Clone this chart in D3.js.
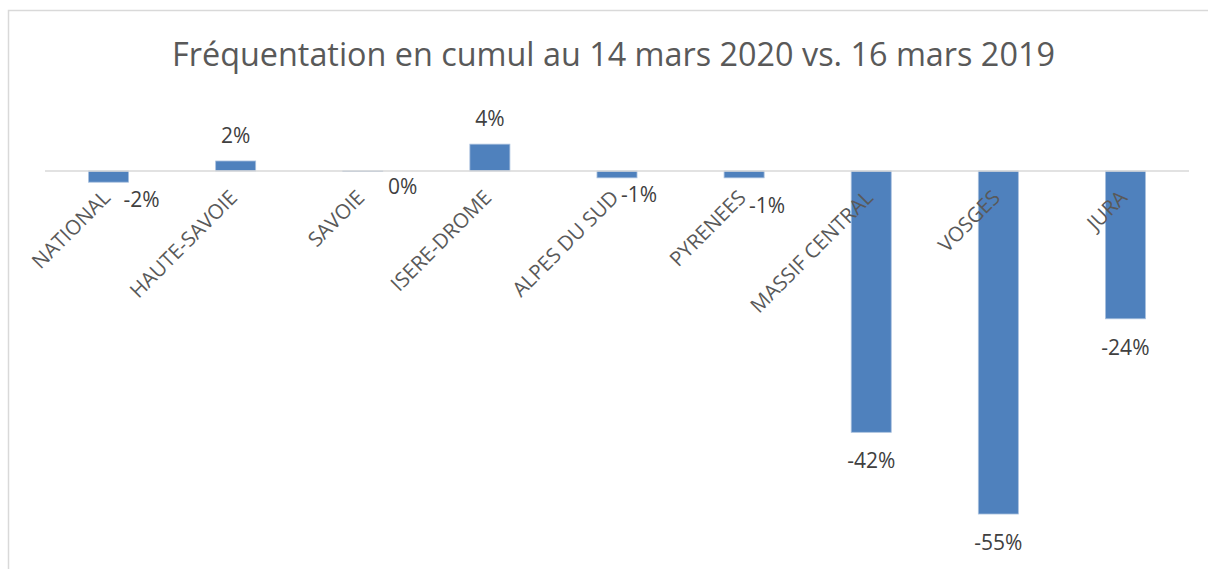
<!DOCTYPE html>
<html>
<head>
<meta charset="utf-8">
<script src="https://cdn.jsdelivr.net/npm/d3@7"></script>
<style>
  html, body { margin: 0; padding: 0; background: #fff; }
  svg { display: block; }
</style>
</head>
<body>
<svg id="chart" width="1208" height="569"></svg>
<script>
// ---- data ----
const categories = ["NATIONAL", "HAUTE-SAVOIE", "SAVOIE", "ISERE-DROME", "ALPES DU SUD", "PYRENEES", "MASSIF CENTRAL", "VOSGES", "JURA"];
const values = [-1.8, 1.6, -0.1, 4.3, -1.1, -1.1, -41.9, -55.0, -23.7];
const titleText = "Fréquentation en cumul au 14 mars 2020 vs. 16 mars 2019";

// ---- drawing ----
const svg = d3.select("#chart");
const W = 1208, H = 569;

// chart frame
svg.append("rect")
  .attr("x", 8.5).attr("y", 10.5)
  .attr("width", W + 20).attr("height", H + 20)
  .attr("fill", "#fff").attr("stroke", "#d9d9d9").attr("stroke-width", 1.5);

// title
const title = svg.append("text")
  .attr("x", 613.5).attr("y", 66)
  .attr("text-anchor", "middle")
  .attr("font-family", "'Open Sans', sans-serif")
  .attr("font-size", 32)
  .attr("fill", "#595959")
  .text(titleText);
const tw = title.node().getComputedTextLength();
title.attr("font-size", 32 * 883 / tw);

const x = d3.scaleBand().domain(categories).range([45, 1189])
  .paddingInner(0.685).paddingOuter(0.3425);
const y = d3.scaleLinear().domain([-60, 10]).range([545.2, 108.6]);

const data = categories.map((c, i) => ({ c, v: values[i] }));

// bars
svg.append("g").selectAll("rect").data(data).join("rect")
  .attr("x", d => x(d.c))
  .attr("width", x.bandwidth())
  .attr("y", d => y(Math.max(0, d.v)))
  .attr("height", d => Math.abs(y(d.v) - y(0)))
  .attr("fill", "#4f81bd")
  .attr("stroke", "#a9c0de").attr("stroke-width", 0.8);

// zero axis line
svg.append("line")
  .attr("x1", 45).attr("x2", 1189)
  .attr("y1", y(0)).attr("y2", y(0))
  .attr("stroke", "#d9d9d9").attr("stroke-width", 1.5);

// category labels (axis)
const axis = d3.axisBottom(x).tickSize(0).tickPadding(0);
const ag = svg.append("g").attr("transform", `translate(0,${y(0)})`).call(axis);
ag.select(".domain").remove();
ag.selectAll(".tick text")
  .attr("font-family", "'Open Sans', sans-serif")
  .attr("font-size", 20.5)
  .attr("fill", "#595959")
  .attr("text-anchor", "end")
  .attr("dy", null)
  .attr("y", 0)
  .attr("transform", "translate(3,28) rotate(-45)");

// data labels — nudges mimic Excel's label placement around the category labels
const nudge = {
  "NATIONAL": [33, 25],
  "SAVOIE": [40, 22.5],
  "ALPES DU SUD": [22, 24],
  "PYRENEES": [23, 35]
};
const fmt = v => { const r = Math.round(v); return (r === 0 ? "0" : String(r)) + "%"; };
svg.append("g").selectAll("text").data(data).join("text")
  .attr("font-family", "'Open Sans', sans-serif")
  .attr("font-size", 21)
  .attr("fill", "#404040")
  .attr("text-anchor", "middle")
  .attr("x", d => x(d.c) + x.bandwidth() / 2 + (nudge[d.c] ? nudge[d.c][0] : 0))
  .attr("y", d => {
    if (nudge[d.c]) return y(Math.min(0, d.v)) + nudge[d.c][1];
    return d.v >= 0 ? y(d.v) - 18 : y(d.v) + 36;
  })
  .text(d => fmt(d.v));
</script>
</body>
</html>
